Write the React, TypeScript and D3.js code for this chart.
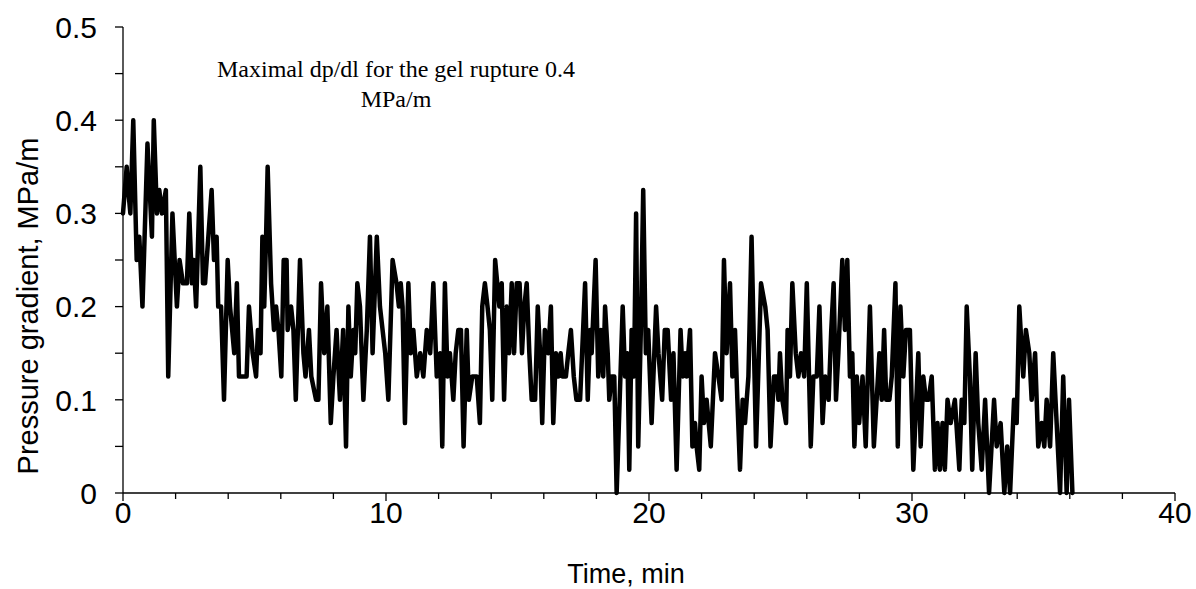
import React from "react";
import * as d3 from "d3";

const timeMin: number[] = [
  0.0, 0.14, 0.2, 0.28, 0.39, 0.52, 0.62, 0.74, 0.93, 1.1, 1.17, 1.29, 1.38, 1.48, 1.63, 1.72, 1.88, 2.05, 2.15, 2.28,
  2.43, 2.52, 2.62, 2.69, 2.78, 2.94, 3.04, 3.12, 3.37, 3.46, 3.56, 3.62, 3.73, 3.84, 3.98, 4.07, 4.23, 4.33, 4.41, 4.57,
  4.7, 4.79, 4.93, 5.06, 5.13, 5.23, 5.3, 5.37, 5.44, 5.5, 5.63, 5.74, 5.82, 5.91, 6.02, 6.11, 6.22, 6.26, 6.39, 6.48,
  6.57, 6.73, 6.86, 6.94, 7.07, 7.16, 7.34, 7.43, 7.53, 7.65, 7.77, 7.9, 8.0, 8.12, 8.25, 8.37, 8.48, 8.57, 8.66, 8.76,
  8.83, 8.91, 9.01, 9.14, 9.27, 9.39, 9.49, 9.65, 9.77, 9.97, 10.09, 10.25, 10.4, 10.49, 10.56, 10.63, 10.72, 10.85, 10.94, 11.04,
  11.17, 11.3, 11.42, 11.55, 11.68, 11.8, 11.93, 12.06, 12.14, 12.24, 12.34, 12.43, 12.56, 12.65, 12.75, 12.85, 12.95, 13.07, 13.15, 13.28,
  13.45, 13.57, 13.66, 13.76, 13.86, 13.95, 14.04, 14.15, 14.31, 14.4, 14.49, 14.59, 14.68, 14.78, 14.87, 14.97, 15.08, 15.17, 15.26, 15.35,
  15.45, 15.54, 15.67, 15.77, 15.86, 15.94, 16.04, 16.17, 16.27, 16.36, 16.46, 16.55, 16.64, 16.71, 16.84, 16.93, 17.03, 17.14, 17.24, 17.38,
  17.57, 17.67, 17.76, 17.82, 17.97, 18.07, 18.17, 18.26, 18.33, 18.43, 18.49, 18.58, 18.68, 18.77, 19.0, 19.09, 19.18, 19.25, 19.34, 19.43,
  19.51, 19.59, 19.69, 19.78, 19.88, 19.97, 20.1, 20.27, 20.36, 20.5, 20.6, 20.71, 20.84, 20.93, 21.05, 21.2, 21.28, 21.37, 21.43, 21.56,
  21.65, 21.75, 21.81, 21.91, 22.0, 22.09, 22.19, 22.35, 22.51, 22.64, 22.76, 22.85, 22.95, 23.08, 23.17, 23.27, 23.36, 23.46, 23.56, 23.65,
  23.78, 23.9, 24.07, 24.26, 24.42, 24.51, 24.62, 24.75, 24.85, 24.92, 24.98, 25.07, 25.21, 25.27, 25.36, 25.45, 25.58, 25.68, 25.78, 25.9,
  26.0, 26.15, 26.25, 26.38, 26.48, 26.6, 26.7, 26.83, 26.93, 27.02, 27.11, 27.2, 27.35, 27.45, 27.54, 27.64, 27.73, 27.81, 27.9, 27.99,
  28.12, 28.24, 28.4, 28.55, 28.76, 28.85, 28.94, 29.02, 29.14, 29.23, 29.37, 29.46, 29.56, 29.67, 29.77, 29.92, 30.05, 30.24, 30.33, 30.43,
  30.53, 30.63, 30.75, 30.87, 30.97, 31.06, 31.16, 31.25, 31.35, 31.47, 31.63, 31.8, 31.89, 31.99, 32.08, 32.2, 32.29, 32.42, 32.52, 32.65,
  32.78, 32.93, 33.12, 33.22, 33.37, 33.51, 33.62, 33.73, 33.88, 33.98, 34.08, 34.23, 34.33, 34.46, 34.55, 34.68, 34.8, 34.93, 35.03, 35.12,
  35.25, 35.37, 35.5, 35.63, 35.75, 35.88, 35.97, 36.1,
];

const gradient: number[] = [
  0.3, 0.35, 0.325, 0.3, 0.4, 0.25, 0.275, 0.2, 0.375, 0.275, 0.4, 0.3, 0.325, 0.3, 0.325, 0.125, 0.3, 0.2, 0.25, 0.225,
  0.225, 0.3, 0.225, 0.25, 0.2, 0.35, 0.225, 0.225, 0.325, 0.25, 0.275, 0.2, 0.2, 0.1, 0.25, 0.2, 0.15, 0.225, 0.125, 0.125,
  0.125, 0.2, 0.15, 0.125, 0.175, 0.15, 0.275, 0.2, 0.275, 0.35, 0.225, 0.175, 0.2, 0.175, 0.125, 0.25, 0.25, 0.175, 0.2, 0.175,
  0.1, 0.25, 0.15, 0.125, 0.175, 0.125, 0.1, 0.1, 0.225, 0.15, 0.2, 0.075, 0.125, 0.175, 0.1, 0.175, 0.05, 0.2, 0.125, 0.175,
  0.15, 0.225, 0.2, 0.1, 0.175, 0.275, 0.15, 0.275, 0.2, 0.15, 0.1, 0.25, 0.225, 0.2, 0.225, 0.2, 0.075, 0.225, 0.15, 0.175,
  0.125, 0.15, 0.125, 0.175, 0.15, 0.225, 0.125, 0.15, 0.05, 0.225, 0.125, 0.15, 0.1, 0.15, 0.175, 0.175, 0.05, 0.175, 0.1, 0.125,
  0.125, 0.075, 0.2, 0.225, 0.2, 0.175, 0.1, 0.25, 0.2, 0.225, 0.1, 0.2, 0.15, 0.225, 0.15, 0.225, 0.225, 0.15, 0.2, 0.225,
  0.15, 0.1, 0.1, 0.2, 0.15, 0.075, 0.175, 0.15, 0.2, 0.075, 0.15, 0.125, 0.15, 0.125, 0.125, 0.15, 0.175, 0.125, 0.1, 0.1,
  0.225, 0.1, 0.175, 0.15, 0.25, 0.125, 0.175, 0.125, 0.2, 0.15, 0.1, 0.125, 0.125, 0.0, 0.2, 0.125, 0.15, 0.025, 0.175, 0.125,
  0.3, 0.05, 0.175, 0.325, 0.15, 0.175, 0.075, 0.2, 0.15, 0.1, 0.175, 0.175, 0.1, 0.15, 0.025, 0.175, 0.125, 0.15, 0.125, 0.175,
  0.05, 0.075, 0.05, 0.025, 0.125, 0.075, 0.1, 0.05, 0.15, 0.125, 0.1, 0.25, 0.15, 0.225, 0.125, 0.175, 0.1, 0.025, 0.1, 0.075,
  0.125, 0.275, 0.05, 0.225, 0.2, 0.175, 0.05, 0.125, 0.125, 0.1, 0.15, 0.1, 0.075, 0.175, 0.125, 0.225, 0.15, 0.125, 0.15, 0.125,
  0.225, 0.05, 0.125, 0.125, 0.2, 0.075, 0.125, 0.1, 0.175, 0.225, 0.1, 0.15, 0.25, 0.175, 0.25, 0.125, 0.15, 0.05, 0.125, 0.075,
  0.125, 0.05, 0.2, 0.05, 0.15, 0.1, 0.175, 0.1, 0.1, 0.125, 0.225, 0.05, 0.2, 0.125, 0.175, 0.175, 0.025, 0.15, 0.05, 0.125,
  0.1, 0.1, 0.125, 0.025, 0.075, 0.025, 0.075, 0.025, 0.1, 0.075, 0.1, 0.025, 0.1, 0.075, 0.2, 0.125, 0.025, 0.15, 0.075, 0.025,
  0.1, 0.0, 0.1, 0.05, 0.075, 0.0, 0.05, 0.0, 0.1, 0.075, 0.2, 0.125, 0.175, 0.15, 0.1, 0.15, 0.05, 0.075, 0.05, 0.1,
  0.05, 0.15, 0.075, 0.0, 0.125, 0.0, 0.1, 0.0,
];

const xMajorTicks: number[] = [0, 10, 20, 30, 40];
const xMinorTicks: number[] = [2, 4, 6, 8, 12, 14, 16, 18, 22, 24, 26, 28, 32, 34, 36, 38];
const yMajorTicks: number[] = [0, 0.1, 0.2, 0.3, 0.4, 0.5];
const yMinorTicks: number[] = [0.05, 0.15, 0.25, 0.35, 0.45];
const yTickLabels: string[] = ["0", "0.1", "0.2", "0.3", "0.4", "0.5"];
const xTitle = "Time, min";
const yTitle = "Pressure gradient, MPa/m";
const noteLines: string[] = ["Maximal dp/dl for the gel rupture 0.4", "MPa/m"];

const W = 1196;
const H = 589;
const left = 123;
const right = 1175;
const top = 27;
const bottom = 493;

export default function App() {
  const x = d3.scaleLinear().domain([0, 40]).range([left, right]);
  const y = d3.scaleLinear().domain([0, 0.5]).range([bottom, top]);
  const pts: [number, number][] = timeMin.map((t, i) => [t, gradient[i]]);
  const line = d3
    .line<[number, number]>()
    .x((d) => x(d[0]))
    .y((d) => y(d[1]));
  const sans = "'Liberation Sans', Arial, sans-serif";
  const serif = "'Liberation Serif', 'Times New Roman', serif";
  const tickLen = 8;
  const fs = 30;
  return (
    <svg
      width={W}
      height={H}
      style={{ position: "absolute", left: 0, top: 0, background: "#fff" }}
    >
      <rect x={0} y={0} width={W} height={H} fill="#fff" />
      <line x1={left} y1={top} x2={left} y2={bottom} stroke="#000" strokeWidth={1.3} />
      <line x1={left} y1={bottom} x2={right} y2={bottom} stroke="#000" strokeWidth={1.3} />
      {yMajorTicks.map((v, i) => (
        <g key={"ym" + i}>
          <line x1={left - tickLen} x2={left} y1={y(v)} y2={y(v)} stroke="#000" strokeWidth={1.3} />
          <text
            x={left - 26}
            y={y(v)}
            dy="0.36em"
            textAnchor="end"
            fontFamily={sans}
            fontSize={fs}
            fill="#000"
          >
            {yTickLabels[i]}
          </text>
        </g>
      ))}
      {yMinorTicks.map((v, i) => (
        <line key={"yn" + i} x1={left - tickLen} x2={left} y1={y(v)} y2={y(v)} stroke="#000" strokeWidth={1.3} />
      ))}
      {xMajorTicks.map((v, i) => (
        <g key={"xm" + i}>
          <line x1={x(v)} x2={x(v)} y1={bottom} y2={bottom + tickLen} stroke="#000" strokeWidth={1.3} />
          <text
            x={x(v)}
            y={bottom + 30}
            textAnchor="middle"
            fontFamily={sans}
            fontSize={fs}
            fill="#000"
          >
            {String(v)}
          </text>
        </g>
      ))}
      {xMinorTicks.map((v, i) => (
        <line key={"xn" + i} x1={x(v)} x2={x(v)} y1={bottom} y2={bottom + 6} stroke="#000" strokeWidth={1.3} />
      ))}
      <path
        d={line(pts) || ""}
        fill="none"
        stroke="#000"
        strokeWidth={4.5}
        strokeLinejoin="round"
        strokeLinecap="round"
      />
      <text x={626} y={583} textAnchor="middle" fontFamily={sans} fontSize={27} fill="#000">
        {xTitle}
      </text>
      <text
        transform={`translate(38, ${(top + bottom) / 2 + 46}) rotate(-90)`}
        textAnchor="middle"
        fontFamily={sans}
        fontSize={29}
        fill="#000"
      >
        {yTitle}
      </text>
      {noteLines.map((s, i) => (
        <text
          key={"n" + i}
          x={396}
          y={77 + i * 30}
          textAnchor="middle"
          fontFamily={serif}
          fontSize={24}
          fill="#000"
        >
          {s}
        </text>
      ))}
    </svg>
  );
}
